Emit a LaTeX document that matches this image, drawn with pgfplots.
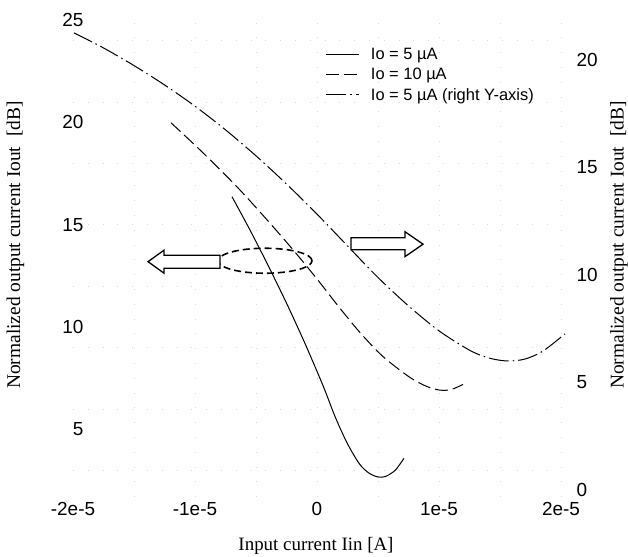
\documentclass[border=0pt]{standalone}
\usepackage{pgfplots}
\pgfplotsset{compat=1.18}
\usepackage{fontspec}
\setmainfont{Liberation Serif}
\newfontfamily\arial{Liberation Sans}

\begin{document}
\begin{tikzpicture}
\pgfplotsset{
  common/.style={
    scale only axis, width=488bp, height=477bp,
    at={(0,0)}, anchor=south west,
    xmin=-2, xmax=2,
    axis line style={draw=none},
    major tick length=0pt, minor tick length=0pt,
    tick label style={font=\arial\fontsize{19}{19}\selectfont},
    /pgf/number format/assume math mode=true,
    clip=false,
  },
  solidc/.style={black, line width=1bp},
  dashc/.style={black, line width=1bp, dash pattern=on 13bp off 5bp},
  dashdotc/.style={black, line width=1bp, dash pattern=on 20bp off 4bp on 1.5bp off 4bp},
}
\begin{axis}[common,
  ymin=1.7, ymax=25,
  xtick={-2,-1,0,1,2}, xticklabels={-2e-5,-1e-5,0,1e-5,2e-5},
  ytick={5,10,15,20,25},
  yticklabel style={anchor=east, xshift=14bp},
  xticklabel style={yshift=-2bp},
  minor ytick={3,6,...,24},
  minor xtick={-1.5,-1,...,2},
  grid=minor,
  minor grid style={gray!30, line width=0.6bp, dash pattern=on 0.8bp off 14bp},
  xlabel={Input current Iin [A]},
  ylabel={Normalized output current Iout\ \ [dB]},
  xlabel style={at={(axis description cs:0.498,-0.103)}, anchor=center, font=\fontsize{19}{19}\selectfont},
  ylabel style={at={(axis description cs:-0.118,0.528)}, anchor=center, font=\fontsize{19.5}{19.5}\selectfont},
  legend style={draw=none, fill=none, at={(axis description cs:0.518,0.945)}, anchor=north west,
    font=\arial\fontsize{16.5}{16.5}\selectfont, row sep=3bp, cells={anchor=west}, inner sep=0pt,
    /tikz/every odd column/.append style={column sep=9bp}},
  legend image code/.code={\draw[#1] (0bp,0bp) -- (33bp,0bp);},
]
\addplot[solidc, smooth] coordinates {
(-0.697,16.37) (-0.55,14.75) (-0.4,13.0) (-0.25,11.17) (-0.1,9.22) (0.05,7.13)
(0.15,5.6) (0.25,4.3) (0.35,3.3) (0.43,2.85) (0.5,2.68) (0.56,2.7) (0.64,3.0) (0.713,3.59)
};
\addlegendentry{Io = 5 µA}
\addplot[dashc, smooth] coordinates {
(-1.197,19.98) (-0.934,18.51) (-0.648,16.80) (-0.41,15.24) (-0.197,13.78) (0.0,12.35)
(0.164,11.1) (0.35,9.75) (0.541,8.56) (0.762,7.54) (0.9,7.1) (1.008,6.92) (1.1,6.95) (1.197,7.20)
};
\addlegendentry{Io = 10 µA}
\addlegendimage{dashdotc}
\addlegendentry{Io = 5 µA (right Y-axis)}

% annotations
\draw[line width=1.6bp, dash pattern=on 7bp off 4bp] (axis cs:-0.426,13.24) ellipse [x radius=47bp, y radius=12.5bp];
\draw[line width=1.3bp, fill=white] (axis cs:-1.385,13.195) -- (axis cs:-1.254,13.756) -- (axis cs:-1.254,13.512)
  -- (axis cs:-0.795,13.512) -- (axis cs:-0.795,12.878) -- (axis cs:-1.254,12.878) -- (axis cs:-1.254,12.634) -- cycle;
\end{axis}

\begin{axis}[common,
  ymin=-0.33, ymax=21.86,
  axis y line*=right, hide x axis,
  ytick={0,5,10,15,20},
  yticklabel style={anchor=west, xshift=12bp},
  ylabel={Normalized output current Iout\ \ [dB]},
  ylabel style={at={(axis description cs:1.119,0.528)}, anchor=center, rotate=0, font=\fontsize{19.5}{19.5}\selectfont},
]
\addplot[dashdotc, smooth] coordinates {
(-1.992,21.26) (-1.75,20.56) (-1.5,19.74) (-1.25,18.84) (-1.0,17.85) (-0.75,16.75)
(-0.5,15.54) (-0.25,14.23) (0.0,12.83) (0.25,11.35) (0.5,9.88) (0.75,8.56)
(1.0,7.40) (1.25,6.50) (1.4,6.15) (1.55,6.0) (1.7,6.08) (1.85,6.45) (2.033,7.26)
};
\end{axis}

\begin{axis}[common, ymin=1.7, ymax=25, hide x axis, hide y axis]
\draw[line width=1.3bp, fill=white] (axis cs:0.279,14.366) -- (axis cs:0.721,14.366) -- (axis cs:0.721,14.659)
  -- (axis cs:0.869,14.049) -- (axis cs:0.721,13.439) -- (axis cs:0.721,13.780) -- (axis cs:0.279,13.780) -- cycle;
\end{axis}

\pgfresetboundingbox
\path[use as bounding box] (-73bp,-60bp) rectangle (555bp,497bp);
\end{tikzpicture}
\end{document}
